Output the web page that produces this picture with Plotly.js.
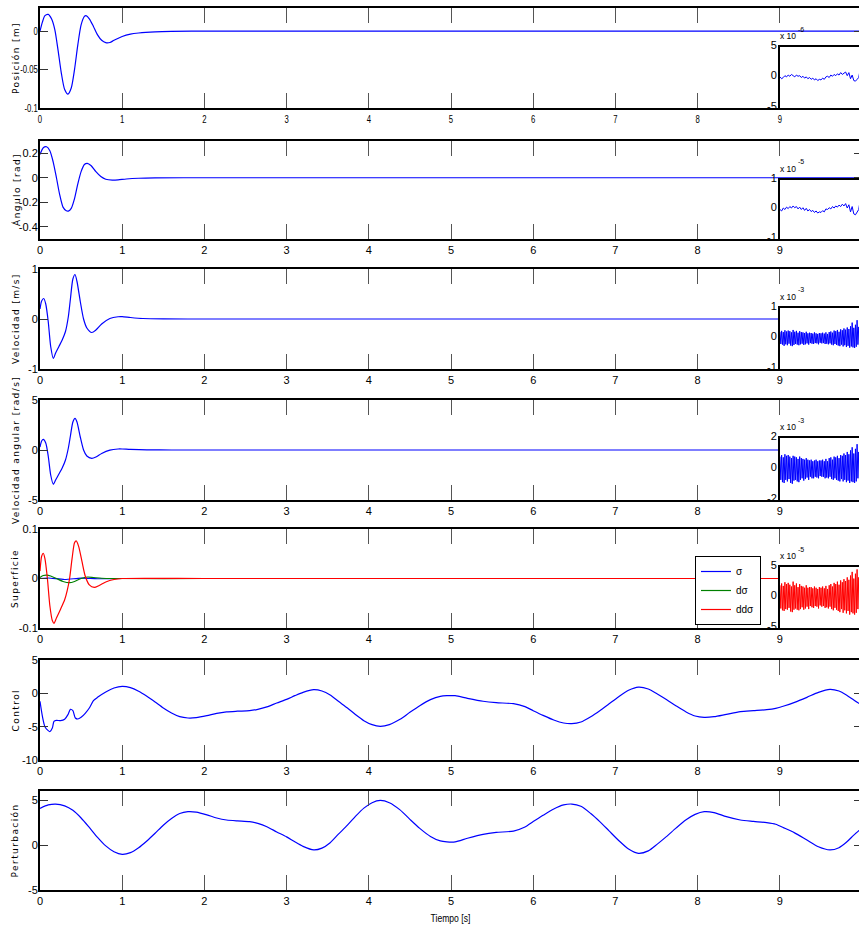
<!DOCTYPE html>
<html><head><meta charset="utf-8">
<script src="https://cdn.plot.ly/plotly-3.0.1.min.js"></script>
<style>html,body{margin:0;padding:0;overflow:hidden;background:#fff}#chart{width:864px;height:932px}</style>
</head><body><div id="chart"></div><script>
// ---------- data ----------
const timeTicks = [0,1,2,3,4,5,6,7,8,9];

const posT = [0,0.03,0.06,0.10,0.14,0.18,0.22,0.26,0.30,0.34,0.38,0.42,0.46,0.50,0.54,0.56,0.60,0.65,0.70,0.75,0.80,0.85,0.90,1.0,1.1,1.2,1.4,1.6,2.0,4,6,8,10];
const posV = [0,0.012,0.020,0.0217,0.016,0.002,-0.025,-0.055,-0.076,-0.082,-0.074,-0.050,-0.018,0.008,0.019,0.020,0.016,0.006,-0.005,-0.012,-0.015,-0.0148,-0.012,-0.007,-0.004,-0.0025,-0.001,-0.0004,0,0,0,0,0];

const angT = [0,0.04,0.08,0.12,0.16,0.20,0.24,0.28,0.32,0.345,0.38,0.42,0.46,0.50,0.54,0.575,0.62,0.68,0.74,0.80,0.88,0.95,1.05,1.2,1.4,2,4,6,8,10];
const angV = [0.19,0.245,0.253,0.22,0.13,0.0,-0.14,-0.24,-0.27,-0.272,-0.25,-0.17,-0.05,0.05,0.108,0.118,0.10,0.05,0.01,-0.012,-0.019,-0.017,-0.01,-0.004,-0.001,0,0,0,0,0];

const velT = [0,0.02,0.045,0.07,0.10,0.13,0.162,0.19,0.23,0.27,0.31,0.345,0.37,0.40,0.426,0.45,0.49,0.53,0.57,0.63,0.68,0.75,0.85,0.95,1.0,1.1,1.25,1.5,2,4,6,8,10];
const velV = [0.2,0.36,0.41,0.30,-0.05,-0.55,-0.79,-0.68,-0.55,-0.42,-0.25,0.05,0.40,0.80,0.89,0.75,0.35,0.0,-0.18,-0.27,-0.22,-0.10,0.01,0.045,0.047,0.03,0.01,0.002,0,0,0,0,0];

const wT = [0,0.02,0.04,0.07,0.10,0.13,0.162,0.19,0.23,0.27,0.31,0.345,0.37,0.40,0.426,0.45,0.49,0.53,0.57,0.63,0.68,0.75,0.85,0.95,1.0,1.1,1.3,1.6,2,4,6,8,10];
const wV = [0.3,0.9,1.07,0.7,-0.6,-2.5,-3.43,-3.0,-2.4,-1.8,-1.0,0.2,1.4,2.8,3.17,2.8,1.3,0.0,-0.6,-0.83,-0.7,-0.35,-0.02,0.1,0.1,0.06,0.02,0.0,0,0,0,0,0];

const sigT = [0,0.1,0.3,0.5,0.7,1.0,2,4,6,8,10];
const sigV = [0,0.001,-0.002,0.0008,-0.0005,0,0,0,0,0,0];
const dsigT = [0,0.04,0.08,0.13,0.2,0.28,0.36,0.42,0.5,0.58,0.65,0.75,0.9,2,4,6,8,10];
const dsigV = [0.002,0.006,0.007,0.005,0.0,-0.006,-0.0085,-0.006,0.0,0.003,0.002,0.0005,0,0,0,0,0,0];
const ddsigT = [0,0.02,0.04,0.06,0.09,0.12,0.15,0.17,0.20,0.25,0.30,0.33,0.36,0.39,0.42,0.44,0.47,0.51,0.55,0.60,0.66,0.72,0.80,0.90,1.0,2,4,6,8,10];
const ddsigV = [0.015,0.045,0.051,0.04,0.0,-0.055,-0.085,-0.0905,-0.08,-0.062,-0.043,-0.025,0.0,0.04,0.072,0.076,0.065,0.035,0.005,-0.013,-0.018,-0.014,-0.007,-0.002,0,0,0,0,0,0];

const ctrlT = [0,0.03,0.06,0.10,0.12,0.15,0.17,0.20,0.25,0.30,0.34,0.37,0.40,0.43,0.46,0.50,0.55,0.60,0.65,0.70,0.80,0.90,1.00,1.10,1.20,1.30,1.40,1.50,1.60,1.70,1.80,1.90,2.03,2.15,2.27,2.40,2.55,2.65,2.76,2.88,3.00,3.10,3.20,3.33,3.43,3.53,3.63,3.74,3.84,3.94,4.04,4.14,4.25,4.38,4.50,4.62,4.75,4.87,4.95,5.05,5.20,5.39,5.55,5.76,5.90,6.00,6.12,6.25,6.37,6.47,6.58,6.70,6.81,6.92,7.04,7.16,7.28,7.40,7.51,7.62,7.74,7.86,7.97,8.08,8.20,8.35,8.52,8.68,8.84,8.95,9.05,9.18,9.33,9.47,9.61,9.72,9.81,9.90,10.0];
const ctrlV = [-1.2,-3.5,-5.0,-5.6,-5.75,-5.2,-4.2,-4.05,-4.1,-3.9,-3.2,-2.4,-2.6,-3.7,-3.85,-3.6,-3.0,-2.2,-1.1,-0.6,0.2,0.8,1.05,0.85,0.3,-0.45,-1.3,-2.2,-2.95,-3.5,-3.7,-3.65,-3.35,-3.0,-2.78,-2.68,-2.6,-2.4,-2.03,-1.45,-0.9,-0.35,0.15,0.55,0.35,-0.25,-1.2,-2.2,-3.2,-4.1,-4.7,-4.95,-4.7,-3.9,-2.85,-1.85,-0.95,-0.45,-0.35,-0.35,-0.75,-1.19,-1.4,-1.55,-2.0,-2.6,-3.3,-4.0,-4.45,-4.55,-4.3,-3.5,-2.6,-1.6,-0.5,0.45,0.93,0.65,-0.1,-0.93,-1.9,-2.8,-3.4,-3.6,-3.5,-3.15,-2.75,-2.6,-2.45,-2.25,-1.9,-1.35,-0.6,0.15,0.6,0.35,-0.25,-1.0,-1.8];

const pertT = [0,0.10,0.19,0.30,0.40,0.50,0.60,0.70,0.80,0.90,1.00,1.10,1.20,1.30,1.40,1.50,1.60,1.70,1.80,1.90,2.03,2.15,2.27,2.40,2.55,2.65,2.76,2.88,3.00,3.10,3.20,3.33,3.43,3.53,3.63,3.74,3.84,3.94,4.04,4.14,4.25,4.38,4.50,4.62,4.75,4.87,4.95,5.05,5.20,5.39,5.55,5.76,5.90,6.00,6.12,6.25,6.37,6.47,6.58,6.70,6.81,6.92,7.04,7.16,7.28,7.40,7.51,7.62,7.74,7.86,7.97,8.08,8.20,8.35,8.52,8.68,8.84,8.95,9.05,9.18,9.33,9.47,9.61,9.72,9.81,9.90,10.0];
const pertV = [4.07,4.45,4.55,4.35,3.85,3.0,1.95,0.85,-0.1,-0.75,-1.04,-0.85,-0.3,0.45,1.3,2.2,2.95,3.5,3.7,3.65,3.35,3.0,2.78,2.68,2.6,2.4,2.03,1.45,0.9,0.35,-0.15,-0.55,-0.35,0.25,1.2,2.2,3.2,4.1,4.7,4.95,4.7,3.9,2.85,1.85,0.95,0.45,0.35,0.35,0.75,1.19,1.4,1.55,2.0,2.6,3.3,4.0,4.45,4.55,4.3,3.5,2.6,1.6,0.5,-0.45,-0.93,-0.65,0.1,0.93,1.9,2.8,3.4,3.7,3.6,3.15,2.78,2.62,2.48,2.3,1.9,1.35,0.55,-0.2,-0.55,-0.3,0.3,1.1,1.9];

// inset values (in units of the exponent shown above each inset), time 9 → 10 s
const ins1V = [0.1,-0.2,0.0,0.3,0.1,0.4,0.2,0.5,0.3,0.1,0.4,0.2,0.3,0.0,0.2,-0.1,0.1,-0.2,0.0,-0.3,-0.1,-0.4,-0.2,-0.5,-0.3,-0.4,-0.1,-0.3,0.1,0.2,0.0,0.4,0.2,0.5,0.3,0.6,0.4,0.8,0.5,0.7,0.9,0.3,0.8,-0.2,0.4,-0.5,-0.6,-0.3,0.0,1.5,3.5];
const ins2V = [0.0,-0.05,0.05,0.0,0.08,0.03,0.1,0.05,0.12,0.06,0.1,0.02,0.08,0.0,0.06,-0.03,0.04,-0.05,0.0,-0.07,-0.03,-0.1,-0.05,-0.12,-0.08,-0.1,-0.04,-0.08,0.02,0.0,0.06,0.02,0.1,0.05,0.12,0.08,0.15,0.1,0.18,0.12,0.2,0.05,0.16,-0.08,0.1,-0.15,-0.18,-0.1,0.0,0.35,0.8];
const ins3V = [0.22,-0.18,0.25,-0.2,0.21,-0.24,0.27,-0.19,0.23,-0.22,0.26,-0.17,0.24,-0.23,0.2,-0.25,0.28,-0.21,0.22,-0.18,0.25,-0.2,0.19,-0.22,0.24,-0.19,0.21,-0.17,0.2,-0.21,0.18,-0.19,0.22,-0.16,0.17,-0.2,0.19,-0.15,0.18,-0.17,0.16,-0.18,0.2,-0.15,0.17,-0.16,0.15,-0.19,0.18,-0.14,0.17,-0.16,0.19,-0.15,0.16,-0.18,0.2,-0.17,0.15,-0.19,0.21,-0.16,0.23,-0.2,0.19,-0.22,0.26,-0.18,0.24,-0.21,0.28,-0.23,0.22,-0.25,0.3,-0.2,0.27,-0.26,0.33,-0.22,0.29,-0.28,0.36,-0.24,0.31,-0.3,0.4,-0.26,0.52,-0.29,0.35,-0.31,0.45,-0.27,0.6,-0.2,0.38,-0.3,0.42,-0.25,0.7];
const ins4V = [0.8,-0.7,0.9,-0.85,0.75,-0.9,0.95,-0.7,0.85,-0.8,0.9,-0.65,0.8,-0.9,0.7,-0.95,0.85,-0.75,0.8,-0.7,0.75,-0.8,0.65,-0.85,0.8,-0.7,0.7,-0.6,0.65,-0.75,0.6,-0.65,0.7,-0.55,0.6,-0.7,0.55,-0.5,0.6,-0.6,0.5,-0.6,0.55,-0.5,0.6,-0.55,0.5,-0.6,0.55,-0.45,0.55,-0.5,0.6,-0.5,0.5,-0.6,0.65,-0.55,0.5,-0.6,0.7,-0.5,0.75,-0.65,0.6,-0.7,0.8,-0.6,0.75,-0.7,0.85,-0.75,0.7,-0.8,0.9,-0.65,0.85,-0.8,1.0,-0.7,0.9,-0.85,1.1,-0.75,0.95,-0.9,1.2,-0.8,1.4,-0.85,1.0,-0.9,1.3,-0.8,1.6,-0.6,1.1,-0.85,1.2,-0.7,1.8];
const ins5V = [2.0,-1.8,2.3,-2.1,1.9,-2.2,2.5,-1.9,2.2,-2.0,2.4,-1.7,2.1,-2.3,1.8,-2.4,2.6,-2.0,2.0,-1.8,2.3,-2.0,1.7,-2.1,2.2,-1.9,1.9,-1.6,1.8,-2.0,1.6,-1.8,2.0,-1.5,1.6,-1.9,1.7,-1.4,1.7,-1.6,1.5,-1.7,1.8,-1.4,1.6,-1.5,1.4,-1.8,1.7,-1.3,1.6,-1.5,1.8,-1.4,1.5,-1.7,1.9,-1.6,1.4,-1.8,2.0,-1.5,2.2,-1.9,1.8,-2.1,2.4,-1.7,2.2,-2.0,2.6,-2.2,2.1,-2.4,2.8,-1.9,2.5,-2.5,3.0,-2.1,2.7,-2.6,3.3,-2.2,2.9,-2.8,3.6,-2.4,4.2,-2.6,3.1,-2.8,3.9,-2.5,4.6,-1.9,3.3,-2.7,3.5,-2.3,4.4];
const insBase = 'x 10';
const insExp = ['-6','-5','-3','-3','-5'];

const yLabels = ['Posición [m]','Ángulo [rad]','Velocidad [m/s]','Velocidad angular [rad/s]','Superficie','Control','Perturbación'];
const yTickVals = [[-0.1,-0.05,0],[-0.4,-0.2,0,0.2],[-1,0,1],[-5,0,5],[-0.1,0,0.1],[-10,-5,0,5],[-5,0,5]];
const yTickText = [['-0.1','-0.05','0'],['-0.4','-0.2','0','0.2'],['-1','0','1'],['-5','0','5'],['-0.1','0','0.1'],['-10','-5','0','5'],['-5','0','5']];
const yRanges = [[-0.1,0.03],[-0.5,0.3],[-1,1],[-5,5],[-0.1,0.1],[-10,5],[-5,6]];
const insTickVals = [[-5,0,5],[-1,0,1],[-1,0,1],[-2,0,2],[-5,0,5]];
const insTickText = [['-5','0','5'],['-1','0','1'],['-1','0','1'],['-2','0','2'],['-5','0','5']];
const legendNames = ['σ','dσ','ddσ'];
const xTitle = 'Tiempo [s]';

// ---------- layout geometry ----------
const W = 864, H = 932;
const panelPx = [[8,108],[141,239],[269,369],[400,500],[529,628],[660,760],[791,890]];
const insetTopPx = [47,180,308,438,567];
const xLeft = 40, xRight = 862, insLeft = 780;
const BLUE = '#0000ff', GREEN = '#008000', RED = '#ff0000';
const SANS = 'Liberation Sans, Arial, sans-serif';
const tickFont = {family:SANS, size:11, color:'#000'};

function gridT(n){ const a=[]; for(let i=0;i<n;i++) a.push(9 + i/(n-1)); return a; }
function tr(x,y,k,color,opts){
  return Object.assign({type:'scatter',mode:'lines',x:x,y:y,xaxis:'x'+(k===1?'':k),yaxis:'y'+(k===1?'':k),
    line:{color:color,width:1.2,shape:'spline',smoothing:0.7},showlegend:false,hoverinfo:'skip'},opts||{});
}
const data = [
  tr(posT,posV,1,BLUE), tr(angT,angV,2,BLUE), tr(velT,velV,3,BLUE), tr(wT,wV,4,BLUE),
  tr(sigT,sigV,5,BLUE,{name:legendNames[0],showlegend:true}),
  tr(dsigT,dsigV,5,GREEN,{name:legendNames[1],showlegend:true}),
  tr(ddsigT,ddsigV,5,RED,{name:legendNames[2],showlegend:true}),
  tr(ctrlT,ctrlV,6,BLUE), tr(pertT,pertV,7,BLUE)
];
const insVals = [ins1V,ins2V,ins3V,ins4V,ins5V];
const insColors = [BLUE,BLUE,BLUE,BLUE,RED];
insVals.forEach((v,j)=>{
  data.push({type:'scatter',mode:'lines',x:gridT(v.length),y:v,xaxis:'x'+(8+j),yaxis:'y'+(8+j),
    line:{color:insColors[j],width:1},showlegend:false,hoverinfo:'skip'});
});

const layout = {width:W,height:H,margin:{l:0,r:0,t:0,b:0},paper_bgcolor:'#fff',plot_bgcolor:'#fff',
  showlegend:true,
  legend:{x:761/W,y:1-556/H,xanchor:'right',yanchor:'top',bgcolor:'#fff',bordercolor:'#000',borderwidth:1,
    font:{family:SANS,size:10,color:'#000'},tracegroupgap:0},
  annotations:[], font:tickFont};

for(let i=0;i<7;i++){
  const k=i+1, sx = k===1?'':k;
  const dom=[1-panelPx[i][1]/H, 1-panelPx[i][0]/H];
  layout['xaxis'+sx]={domain:[xLeft/W,xRight/W],anchor:'y'+sx,range:[0,10],tickvals:timeTicks,ticktext:timeTicks.map(String),
    ticks:'inside',ticklen:15,tickwidth:1,tickcolor:'#555',mirror:'ticks',showline:true,linewidth:2,linecolor:'#000',
    showgrid:false,zeroline:false,tickfont:tickFont,fixedrange:true};
  layout['yaxis'+sx]={domain:dom,anchor:'x'+sx,range:yRanges[i],tickvals:yTickVals[i],ticktext:yTickText[i],
    ticks:'inside',ticklen:8,tickwidth:1,tickcolor:'#333',mirror:'ticks',showline:true,linewidth:2,linecolor:'#000',
    showgrid:false,zeroline:false,tickfont:tickFont,ticklabelstandoff:-2,fixedrange:true};
  layout.annotations.push({text:yLabels[i],xref:'paper',yref:'paper',x:15.5/W,y:(dom[0]+dom[1])/2,textangle:-90,
    showarrow:false,xanchor:'center',yanchor:'middle',font:{family:'DejaVu Sans, sans-serif',size:9,color:'#000'}});
}
for(let j=0;j<5;j++){
  const k=8+j;
  const dom=[1-panelPx[j][1]/H, 1-insetTopPx[j]/H];
  layout['xaxis'+k]={domain:[insLeft/W,xRight/W],anchor:'y'+k,range:[9,10],showticklabels:false,
    ticks:'',showline:true,mirror:true,linewidth:2,linecolor:'#000',showgrid:false,zeroline:false,fixedrange:true};
  layout['yaxis'+k]={domain:dom,anchor:'x'+k,range:[insTickVals[j][0],insTickVals[j][2]],tickvals:insTickVals[j],ticktext:insTickText[j],
    ticks:'',showline:true,mirror:true,linewidth:2,linecolor:'#000',showgrid:false,zeroline:false,tickfont:tickFont,
    ticklabelshift:-2,ticklabelstandoff:-1,fixedrange:true};
  layout.annotations.push({text:insBase,xref:'paper',yref:'paper',x:(insLeft-1)/W,y:1-(insetTopPx[j]-11)/H,
    showarrow:false,xanchor:'left',yanchor:'middle',borderpad:0,font:{family:SANS,size:8.5,color:'#000'}});
  layout.annotations.push({text:insExp[j],xref:'paper',yref:'paper',x:797/W,y:1-(insetTopPx[j]-18)/H,
    showarrow:false,xanchor:'left',yanchor:'middle',borderpad:0,font:{family:SANS,size:7,color:'#000'}});
}
layout.annotations.push({text:xTitle,xref:'paper',yref:'paper',x:((xLeft+xRight)/2)/W,y:1-918/H,showarrow:false,
  xanchor:'center',yanchor:'middle',font:tickFont});

function squeeze(t,f){
  const L=t.getComputedTextLength();
  if(L>0){ t.setAttribute('textLength',(L*f).toFixed(2)); t.setAttribute('lengthAdjust','spacingAndGlyphs'); }
}
Plotly.newPlot('chart',data,layout,{staticPlot:true,displayModeBar:false}).then(gd=>{
  gd.querySelectorAll('.xtick text, .ytick text').forEach(t=>squeeze(t,0.7));
  gd.querySelectorAll('.annotation-text').forEach(t=>{
    const s=t.textContent;
    if(s===xTitle) squeeze(t,0.78);
    else if(yLabels.indexOf(s)>=0) t.style.letterSpacing='1.4px';
  });
});
</script></body></html>
